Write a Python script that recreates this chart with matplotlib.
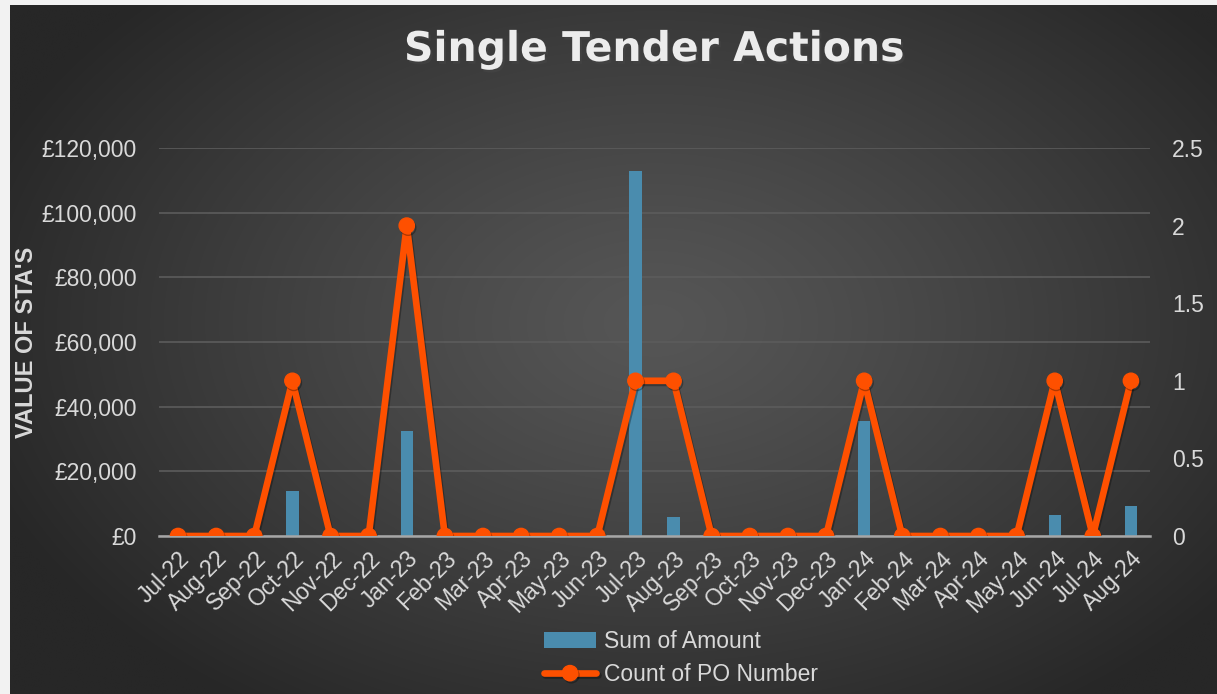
"""Single Tender Actions: monthly STA value (bars) and PO count (line)."""

import matplotlib

matplotlib.use("Agg")
import matplotlib.pyplot as plt
import matplotlib.patheffects as pe
import numpy as np
from matplotlib.ticker import FuncFormatter, MultipleLocator

W, H = 1217, 694

months = [
    "Jul-22", "Aug-22", "Sep-22", "Oct-22", "Nov-22", "Dec-22", "Jan-23",
    "Feb-23", "Mar-23", "Apr-23", "May-23", "Jun-23", "Jul-23", "Aug-23",
    "Sep-23", "Oct-23", "Nov-23", "Dec-23", "Jan-24", "Feb-24", "Mar-24",
    "Apr-24", "May-24", "Jun-24", "Jul-24", "Aug-24",
]
sum_amount = [
    0, 0, 0, 14000, 0, 0, 32500,
    0, 0, 0, 0, 0, 113000, 5900,
    0, 0, 0, 0, 35500, 0, 0,
    0, 0, 6500, 0, 9300,
]
po_count = [
    0, 0, 0, 1, 0, 0, 2,
    0, 0, 0, 0, 0, 1, 1,
    0, 0, 0, 0, 1, 0, 0,
    0, 0, 1, 0, 1,
]

TXT = "#d9d9d9"
BAR = "#4a8cae"
LINE = "#fe5000"
plt.rcParams["font.family"] = ["Liberation Sans", "DejaVu Sans"]

fig = plt.figure(figsize=(W / 100, H / 100), dpi=100, facecolor="#f2f2f2")

# dark radial-gradient chart area
bg = fig.add_axes([10 / W, 0, 1 - 10 / W, 1 - 5 / H], zorder=-10)
yy, xx = np.mgrid[0:H, 0:W]
d = np.sqrt(((xx - 650) / 720) ** 2 + ((yy - 320) / 470) ** 2)
shade = (0x56 - (0x56 - 0x27) * np.clip(d, 0, 1) ** 1.2) / 255
bg.imshow(np.dstack([shade] * 3), aspect="auto", extent=[0, 1, 0, 1])
bg.axis("off")

ax = fig.add_axes([159 / W, 1 - 536 / H, (1150 - 159) / W, (536 - 148) / H])
ax.patch.set_alpha(0)
x = np.arange(len(months))
ax.bar(x, sum_amount, width=0.32, color=BAR, zorder=2,
       path_effects=[pe.withSimplePatchShadow(offset=(0, 0), alpha=0.35)])
ax.set_xlim(-0.5, len(months) - 0.5)
ax.set_ylim(0, 120000)
ax.yaxis.set_major_locator(MultipleLocator(20000))
ax.yaxis.set_major_formatter(FuncFormatter(lambda v, _: f"£{v:,.0f}"))
ax.grid(axis="y", color="#5c5c5c", lw=1.2, zorder=0)
ax.set_axisbelow(True)
for s in ["top", "right", "left"]:
    ax.spines[s].set_visible(False)
ax.spines["bottom"].set_color("#a6a6a6")
ax.spines["bottom"].set_linewidth(1.8)
ax.tick_params(axis="y", length=0, pad=16, labelsize=16.5, labelcolor=TXT)
ax.tick_params(axis="x", length=0, pad=8, labelsize=16.5, labelcolor=TXT)
ax.set_xticks(x)
ax.set_xticklabels(months, rotation=45, ha="right", va="top",
                   rotation_mode="anchor")
fig.text(27 / W, 1 - 342 / H, "VALUE OF STA'S", rotation=90, ha="center",
         va="center", fontsize=17, fontweight="bold", color=TXT)

ax2 = ax.twinx()
ax2.plot(x, po_count, color=LINE, lw=4.8, marker="o", ms=11, zorder=3,
         solid_joinstyle="round", solid_capstyle="round",
         path_effects=[pe.SimpleLineShadow(offset=(1, -1.5), alpha=0.3),
                       pe.Normal()])
ax2.set_ylim(0, 2.5)
ax2.yaxis.set_major_locator(MultipleLocator(0.5))
ax2.yaxis.set_major_formatter(FuncFormatter(lambda v, _: f"{v:g}"))
ax2.tick_params(axis="y", length=0, pad=16, labelsize=16.5, labelcolor=TXT)
for s in ax2.spines.values():
    s.set_visible(False)

fig.text(655 / W, 1 - 50 / H, "Single Tender Actions", ha="center",
         va="center", fontsize=29.5, fontweight="bold", color="#ececec",
         family="DejaVu Sans",
         path_effects=[pe.withSimplePatchShadow(offset=(1.5, -2), alpha=0.5)])

handles = [ax.containers[0], ax2.lines[0]]
fig.legend(handles, ["Sum of Amount", "Count of PO Number"], loc="center",
           bbox_to_anchor=(681 / W, 1 - 658 / H), frameon=False, ncol=1,
           fontsize=16.5, labelcolor=TXT, handlelength=2.3,
           handletextpad=0.35, labelspacing=0.45)

fig.savefig("out.png", dpi=100, facecolor=fig.get_facecolor())
